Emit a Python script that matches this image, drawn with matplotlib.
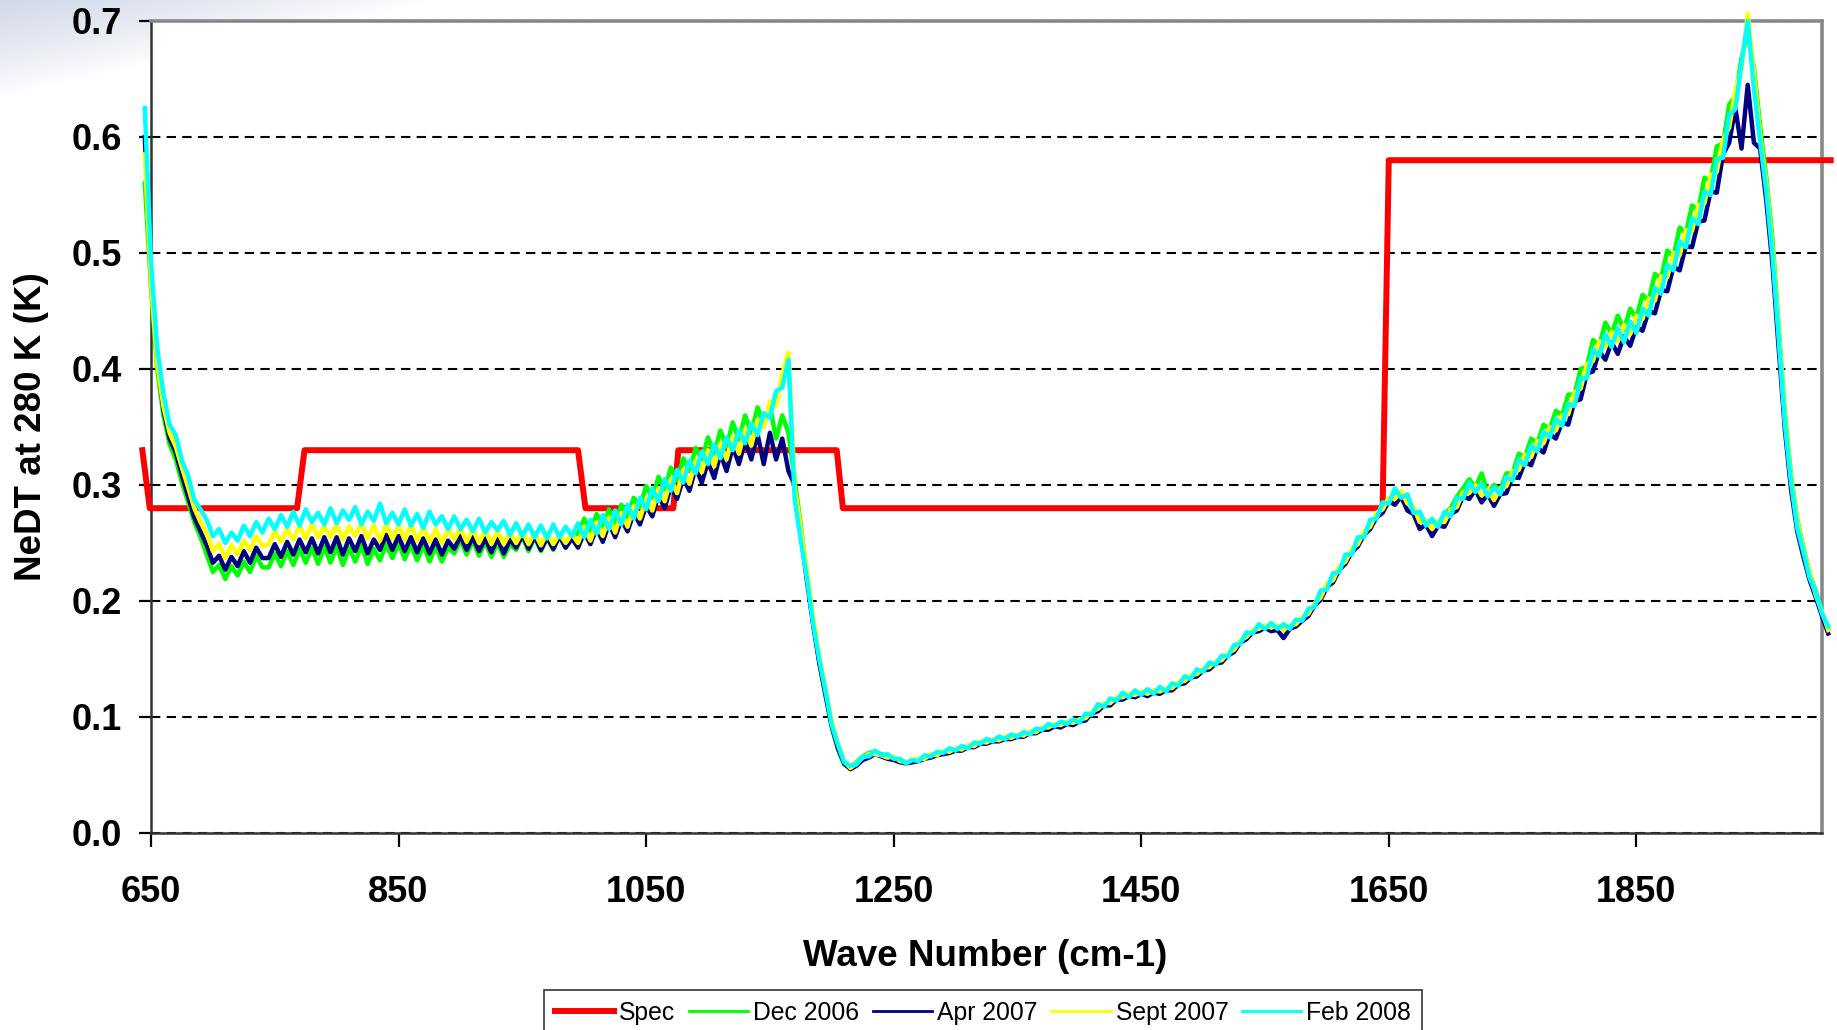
import numpy as np
import matplotlib
matplotlib.use('Agg')
import matplotlib.pyplot as plt
from matplotlib.lines import Line2D

plt.rcParams['font.family'] = ['Liberation Sans', 'DejaVu Sans']

# ---------------- data ----------------
wavenumber = np.arange(645, 2006, 5)

spec_x = [643, 649, 768, 774, 995, 1001, 1072, 1076, 1204, 1209, 1645, 1650, 2007]
spec_y = [0.33, 0.28, 0.28, 0.33, 0.33, 0.28, 0.28, 0.33, 0.33, 0.28, 0.28, 0.58, 0.58]

dec2006 = [
    0.560, 0.470, 0.400, 0.360, 0.335, 0.322, 0.302, 0.285, 0.268, 0.255,
    0.240, 0.225, 0.231, 0.219, 0.230, 0.222, 0.234, 0.225, 0.239, 0.229,
    0.229, 0.241, 0.230, 0.243, 0.231, 0.245, 0.233, 0.246, 0.232, 0.247,
    0.233, 0.247, 0.231, 0.246, 0.234, 0.248, 0.232, 0.245, 0.235, 0.249,
    0.237, 0.250, 0.236, 0.249, 0.235, 0.248, 0.234, 0.247, 0.234, 0.246,
    0.241, 0.253, 0.240, 0.252, 0.239, 0.251, 0.238, 0.250, 0.238, 0.249,
    0.244, 0.256, 0.243, 0.255, 0.243, 0.254, 0.244, 0.256, 0.246, 0.257,
    0.258, 0.271, 0.260, 0.275, 0.263, 0.279, 0.267, 0.283, 0.272, 0.289,
    0.281, 0.299, 0.289, 0.307, 0.296, 0.315, 0.304, 0.323, 0.312, 0.332,
    0.322, 0.341, 0.327, 0.347, 0.333, 0.354, 0.339, 0.360, 0.345, 0.367,
    0.352, 0.368, 0.340, 0.360, 0.345, 0.305, 0.265, 0.222, 0.183, 0.147,
    0.118, 0.091, 0.072, 0.059, 0.056, 0.061, 0.066, 0.069, 0.070, 0.068,
    0.066, 0.064, 0.062, 0.061, 0.061, 0.063, 0.066, 0.066, 0.069, 0.069,
    0.071, 0.072, 0.074, 0.074, 0.077, 0.077, 0.080, 0.080, 0.082, 0.082,
    0.084, 0.084, 0.086, 0.086, 0.089, 0.089, 0.093, 0.092, 0.095, 0.095,
    0.097, 0.097, 0.101, 0.103, 0.109, 0.110, 0.114, 0.115, 0.119, 0.118,
    0.121, 0.120, 0.122, 0.121, 0.124, 0.123, 0.127, 0.128, 0.133, 0.134,
    0.139, 0.140, 0.145, 0.146, 0.151, 0.153, 0.160, 0.164, 0.171, 0.173,
    0.178, 0.177, 0.179, 0.177, 0.178, 0.177, 0.182, 0.184, 0.191, 0.196,
    0.207, 0.211, 0.222, 0.226, 0.238, 0.241, 0.253, 0.256, 0.268, 0.272,
    0.283, 0.285, 0.294, 0.290, 0.290, 0.278, 0.275, 0.267, 0.269, 0.266,
    0.275, 0.280, 0.290, 0.297, 0.305, 0.298, 0.310, 0.293, 0.300, 0.296,
    0.310, 0.310, 0.327, 0.324, 0.340, 0.336, 0.352, 0.348, 0.364, 0.360,
    0.378, 0.378, 0.400, 0.402, 0.425, 0.420, 0.440, 0.430, 0.446, 0.434,
    0.452, 0.444, 0.464, 0.459, 0.482, 0.478, 0.502, 0.497, 0.522, 0.517,
    0.541, 0.537, 0.565, 0.562, 0.592, 0.594, 0.628, 0.635, 0.668, 0.690,
    0.660, 0.610, 0.565, 0.512, 0.436, 0.362, 0.308, 0.270, 0.246, 0.224,
    0.208, 0.190, 0.176,
]

apr2007 = [
    0.600, 0.480, 0.410, 0.365, 0.340, 0.328, 0.308, 0.290, 0.272, 0.260,
    0.248, 0.233, 0.239, 0.227, 0.238, 0.230, 0.243, 0.233, 0.246, 0.237,
    0.237, 0.249, 0.238, 0.251, 0.240, 0.253, 0.242, 0.254, 0.241, 0.255,
    0.242, 0.255, 0.240, 0.254, 0.243, 0.256, 0.241, 0.253, 0.244, 0.257,
    0.244, 0.256, 0.243, 0.255, 0.242, 0.254, 0.241, 0.253, 0.240, 0.252,
    0.245, 0.256, 0.244, 0.255, 0.243, 0.254, 0.242, 0.254, 0.241, 0.253,
    0.246, 0.257, 0.245, 0.256, 0.244, 0.255, 0.245, 0.256, 0.246, 0.254,
    0.246, 0.259, 0.249, 0.263, 0.251, 0.267, 0.255, 0.270, 0.260, 0.276,
    0.266, 0.282, 0.273, 0.291, 0.280, 0.299, 0.288, 0.306, 0.295, 0.315,
    0.302, 0.320, 0.306, 0.327, 0.312, 0.333, 0.318, 0.338, 0.322, 0.344,
    0.318, 0.345, 0.322, 0.340, 0.312, 0.300, 0.258, 0.217, 0.179, 0.146,
    0.119, 0.092, 0.073, 0.060, 0.055, 0.058, 0.063, 0.065, 0.068, 0.066,
    0.064, 0.063, 0.061, 0.060, 0.061, 0.062, 0.064, 0.065, 0.067, 0.068,
    0.069, 0.071, 0.071, 0.074, 0.074, 0.077, 0.077, 0.079, 0.079, 0.081,
    0.081, 0.083, 0.083, 0.086, 0.086, 0.089, 0.089, 0.092, 0.091, 0.094,
    0.093, 0.096, 0.097, 0.103, 0.105, 0.110, 0.110, 0.115, 0.115, 0.118,
    0.117, 0.120, 0.118, 0.121, 0.120, 0.123, 0.123, 0.128, 0.129, 0.134,
    0.135, 0.140, 0.141, 0.146, 0.147, 0.153, 0.156, 0.164, 0.167, 0.173,
    0.174, 0.177, 0.174, 0.175, 0.168, 0.176, 0.178, 0.183, 0.187, 0.196,
    0.201, 0.212, 0.216, 0.227, 0.232, 0.242, 0.247, 0.257, 0.262, 0.272,
    0.276, 0.286, 0.283, 0.290, 0.278, 0.275, 0.262, 0.266, 0.256, 0.265,
    0.264, 0.275, 0.278, 0.290, 0.288, 0.296, 0.285, 0.292, 0.282, 0.292,
    0.293, 0.307, 0.306, 0.320, 0.317, 0.332, 0.328, 0.344, 0.340, 0.354,
    0.352, 0.372, 0.374, 0.396, 0.398, 0.415, 0.408, 0.423, 0.413, 0.428,
    0.420, 0.436, 0.433, 0.450, 0.448, 0.468, 0.467, 0.488, 0.485, 0.506,
    0.505, 0.527, 0.528, 0.553, 0.552, 0.585, 0.595, 0.625, 0.590, 0.645,
    0.595, 0.590, 0.545, 0.490, 0.418, 0.348, 0.296, 0.260, 0.238, 0.218,
    0.203, 0.187, 0.172,
]

sep2007 = [
    0.585, 0.475, 0.405, 0.368, 0.345, 0.333, 0.315, 0.298, 0.280, 0.268,
    0.258, 0.243, 0.249, 0.237, 0.248, 0.240, 0.252, 0.244, 0.256, 0.247,
    0.249, 0.260, 0.251, 0.262, 0.253, 0.265, 0.254, 0.266, 0.255, 0.264,
    0.255, 0.266, 0.253, 0.264, 0.256, 0.267, 0.254, 0.265, 0.252, 0.266,
    0.254, 0.265, 0.253, 0.266, 0.252, 0.263, 0.251, 0.262, 0.250, 0.262,
    0.253, 0.263, 0.251, 0.262, 0.250, 0.261, 0.249, 0.260, 0.249, 0.259,
    0.250, 0.260, 0.249, 0.259, 0.248, 0.259, 0.249, 0.258, 0.250, 0.258,
    0.250, 0.264, 0.252, 0.268, 0.256, 0.272, 0.259, 0.276, 0.264, 0.282,
    0.271, 0.288, 0.278, 0.297, 0.286, 0.305, 0.293, 0.313, 0.301, 0.321,
    0.311, 0.330, 0.316, 0.336, 0.322, 0.342, 0.327, 0.348, 0.334, 0.356,
    0.350, 0.372, 0.368, 0.396, 0.414, 0.300, 0.262, 0.224, 0.186, 0.152,
    0.124, 0.096, 0.077, 0.062, 0.056, 0.060, 0.065, 0.068, 0.068, 0.067,
    0.065, 0.066, 0.062, 0.061, 0.063, 0.064, 0.064, 0.068, 0.067, 0.071,
    0.070, 0.073, 0.072, 0.076, 0.075, 0.079, 0.078, 0.081, 0.080, 0.083,
    0.082, 0.085, 0.084, 0.088, 0.087, 0.091, 0.091, 0.094, 0.093, 0.096,
    0.095, 0.098, 0.099, 0.105, 0.107, 0.112, 0.112, 0.117, 0.117, 0.120,
    0.119, 0.122, 0.120, 0.123, 0.122, 0.125, 0.125, 0.130, 0.131, 0.136,
    0.137, 0.142, 0.143, 0.148, 0.149, 0.155, 0.158, 0.166, 0.169, 0.175,
    0.176, 0.179, 0.177, 0.179, 0.175, 0.179, 0.180, 0.186, 0.189, 0.198,
    0.203, 0.215, 0.218, 0.230, 0.234, 0.245, 0.249, 0.260, 0.264, 0.276,
    0.279, 0.289, 0.288, 0.295, 0.284, 0.281, 0.268, 0.270, 0.262, 0.269,
    0.268, 0.279, 0.281, 0.294, 0.293, 0.300, 0.291, 0.296, 0.287, 0.297,
    0.299, 0.312, 0.313, 0.326, 0.324, 0.338, 0.336, 0.350, 0.347, 0.360,
    0.361, 0.380, 0.383, 0.404, 0.407, 0.424, 0.419, 0.432, 0.424, 0.438,
    0.430, 0.446, 0.443, 0.461, 0.459, 0.480, 0.479, 0.500, 0.498, 0.520,
    0.519, 0.541, 0.543, 0.567, 0.570, 0.598, 0.608, 0.640, 0.660, 0.706,
    0.655, 0.602, 0.560, 0.505, 0.432, 0.358, 0.305, 0.268, 0.244, 0.224,
    0.205, 0.191, 0.175,
]

feb2008 = [
    0.625, 0.492, 0.418, 0.379, 0.352, 0.343, 0.321, 0.308, 0.287, 0.279,
    0.270, 0.256, 0.262, 0.250, 0.259, 0.252, 0.265, 0.256, 0.268, 0.259,
    0.271, 0.262, 0.274, 0.264, 0.277, 0.265, 0.279, 0.268, 0.276, 0.266,
    0.280, 0.267, 0.278, 0.270, 0.281, 0.266, 0.277, 0.269, 0.284, 0.267,
    0.276, 0.266, 0.279, 0.265, 0.275, 0.263, 0.277, 0.266, 0.273, 0.262,
    0.273, 0.262, 0.270, 0.260, 0.271, 0.259, 0.268, 0.261, 0.269, 0.257,
    0.267, 0.256, 0.266, 0.255, 0.265, 0.254, 0.266, 0.255, 0.264, 0.256,
    0.267, 0.255, 0.270, 0.258, 0.274, 0.262, 0.278, 0.266, 0.283, 0.271,
    0.289, 0.279, 0.297, 0.286, 0.305, 0.295, 0.313, 0.302, 0.321, 0.310,
    0.329, 0.318, 0.335, 0.323, 0.341, 0.330, 0.347, 0.336, 0.353, 0.343,
    0.362, 0.358, 0.381, 0.384, 0.408, 0.288, 0.252, 0.219, 0.180, 0.149,
    0.122, 0.093, 0.076, 0.061, 0.058, 0.059, 0.066, 0.066, 0.071, 0.067,
    0.068, 0.064, 0.064, 0.060, 0.063, 0.062, 0.067, 0.066, 0.070, 0.069,
    0.073, 0.071, 0.075, 0.073, 0.078, 0.077, 0.081, 0.079, 0.083, 0.081,
    0.085, 0.083, 0.087, 0.085, 0.090, 0.089, 0.094, 0.092, 0.096, 0.094,
    0.098, 0.095, 0.103, 0.102, 0.111, 0.109, 0.116, 0.114, 0.121, 0.117,
    0.123, 0.119, 0.124, 0.120, 0.126, 0.122, 0.129, 0.127, 0.135, 0.133,
    0.141, 0.139, 0.147, 0.145, 0.153, 0.152, 0.162, 0.163, 0.173, 0.172,
    0.180, 0.176, 0.181, 0.176, 0.180, 0.176, 0.184, 0.183, 0.193, 0.195,
    0.209, 0.210, 0.224, 0.225, 0.240, 0.240, 0.255, 0.255, 0.270, 0.271,
    0.285, 0.284, 0.297, 0.289, 0.292, 0.276, 0.277, 0.265, 0.271, 0.264,
    0.277, 0.273, 0.289, 0.288, 0.302, 0.294, 0.301, 0.290, 0.298, 0.292,
    0.307, 0.304, 0.322, 0.317, 0.334, 0.329, 0.346, 0.341, 0.357, 0.351,
    0.370, 0.368, 0.392, 0.392, 0.417, 0.411, 0.430, 0.419, 0.435, 0.423,
    0.441, 0.431, 0.452, 0.446, 0.470, 0.465, 0.490, 0.485, 0.510, 0.505,
    0.530, 0.525, 0.553, 0.550, 0.581, 0.582, 0.619, 0.624, 0.664, 0.700,
    0.642, 0.596, 0.553, 0.498, 0.427, 0.353, 0.302, 0.263, 0.242, 0.220,
    0.207, 0.189, 0.178,
]

series_names = ['Dec 2006', 'Apr 2007', 'Sept 2007', 'Feb 2008']
series_values = [dec2006, apr2007, sep2007, feb2008]
series_colors = ['#00ff00', '#000080', '#ffff00', '#00ffff']

x_ticks = [650, 850, 1050, 1250, 1450, 1650, 1850]
y_ticks = [0.0, 0.1, 0.2, 0.3, 0.4, 0.5, 0.6, 0.7]

# ---------------- figure ----------------
W, H = 1837, 1030
fig = plt.figure(figsize=(W / 100, H / 100), dpi=100)
fig.patch.set_facecolor('white')

# faint slide-background swirl in the top-left corner
bg = fig.add_axes([0, 0, 1, 1], zorder=-10)
bg.set_axis_off()
gy, gx = np.mgrid[0:H // 2, 0:W // 2] * 2.0
t = gx / 430.0 + gy / 95.0
alpha = np.clip(1.0 - t, 0, 1) ** 0.8
img = np.zeros((H // 2, W // 2, 4))
img[..., 0] = 0.82
img[..., 1] = 0.85
img[..., 2] = 0.91
img[..., 3] = alpha
bg.imshow(img, extent=[0, W, H, 0], aspect='auto', interpolation='bilinear')
bg.set_xlim(0, W)
bg.set_ylim(H, 0)

L, R, T, B = 151, 1822, 21, 833
ax = fig.add_axes([L / W, 1 - B / H, (R - L) / W, (B - T) / H])
ax.set_facecolor('white')
ax.set_xlim(650, 2000)
ax.set_ylim(0, 0.7)

ax.set_axisbelow(True)
ax.yaxis.grid(True, color='black', linestyle=(0, (4.5, 3.0)), linewidth=1.5)
ax.xaxis.grid(False)

ax.plot(spec_x, spec_y, color='#ff0000', lw=4.3, clip_on=False, zorder=3)
for vals, col in zip(series_values, series_colors):
    ax.plot(wavenumber, vals, color=col, lw=3.2, clip_on=False, zorder=4)

ax.set_xticks(x_ticks)
ax.set_xticklabels([str(v) for v in x_ticks])
ax.set_yticks(y_ticks)
ax.set_yticklabels(['%.1f' % v for v in y_ticks])
ax.tick_params(axis='x', direction='out', length=10, width=1.6, pad=20,
               labelsize=26, colors='black')
ax.tick_params(axis='y', direction='out', length=9, width=1.6, pad=12,
               labelsize=26, colors='black')
for lab in ax.get_xticklabels() + ax.get_yticklabels():
    lab.set_fontweight('bold')

for s in ['top', 'right']:
    ax.spines[s].set_color('#888888')
    ax.spines[s].set_linewidth(2.6)
for s in ['left', 'bottom']:
    ax.spines[s].set_color('#333333')
    ax.spines[s].set_linewidth(1.8)

fig.text(985 / W, 1 - 956 / H, 'Wave Number (cm-1)', ha='center', va='center',
         fontsize=26.5, fontweight='bold')
fig.text(32 / W, 1 - 427 / H, 'NeDT at 280 K (K)', ha='center', va='center',
         rotation=90, fontsize=26.5, fontweight='bold')

handles = [Line2D([], [], color='#ff0000', lw=4.3)]
handles += [Line2D([], [], color=c, lw=2.0) for c in series_colors]
labels = ['Spec'] + series_names
leg = fig.legend(handles, labels, loc='upper center',
                 bbox_to_anchor=(983 / W, 1 - 990 / H), ncol=5, fontsize=17.8,
                 frameon=True, fancybox=False, edgecolor='black',
                 handlelength=2.4, handletextpad=0.2, columnspacing=0.55,
                 borderpad=0.45, borderaxespad=0)
leg.get_frame().set_linewidth(1.2)

fig.savefig('out.png', dpi=100)
